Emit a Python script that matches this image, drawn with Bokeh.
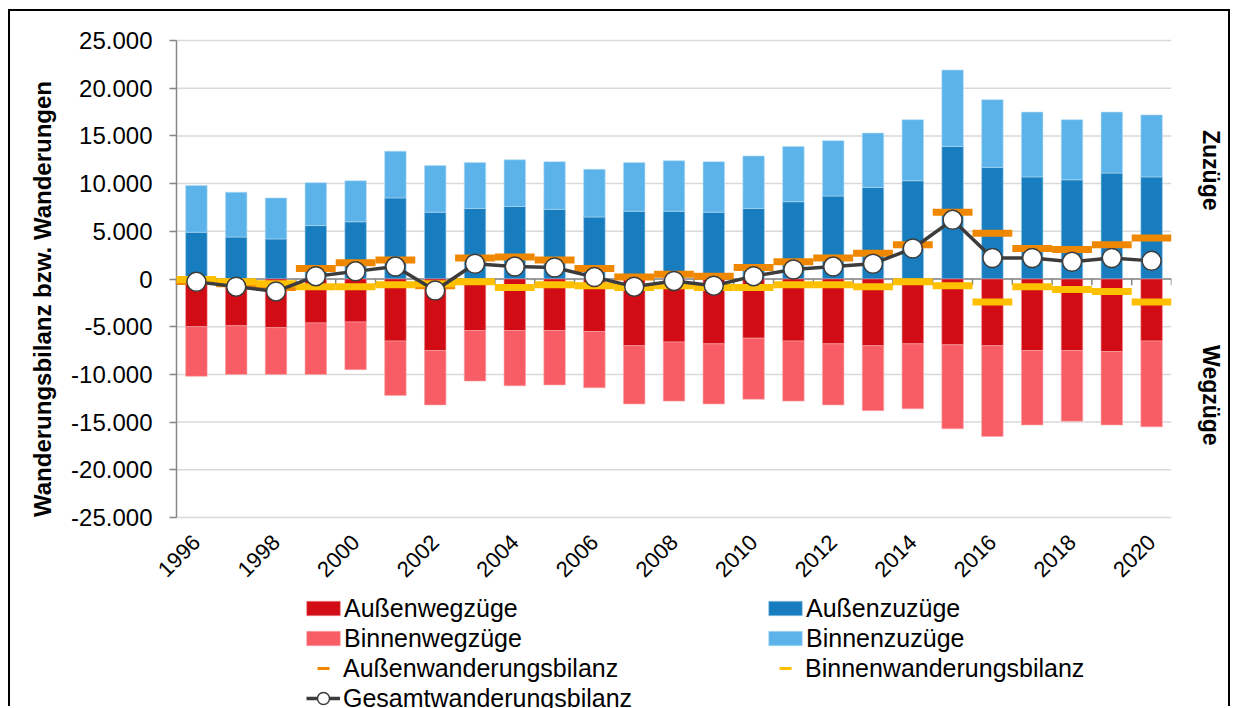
import math
from bokeh.plotting import figure
from bokeh.models import (Range1d, FixedTicker, LinearAxis, Legend, LegendItem)
from bokeh.embed import file_html
from bokeh.resources import INLINE

# ---------------- data ----------------
years = list(range(1996, 2021))
aussen_zuzuege = [4900, 4400, 4200, 5600, 6000, 8500, 7000, 7400, 7600, 7300, 6500, 7100, 7100,
                  7000, 7400, 8100, 8700, 9600, 10300, 13900, 11700, 10700, 10400, 11100, 10700]
binnen_zuzuege = [4900, 4700, 4300, 4500, 4300, 4900, 4900, 4800, 4900, 5000, 5000, 5100, 5300,
                  5300, 5500, 5800, 5800, 5700, 6400, 8000, 7100, 6800, 6300, 6400, 6500]
aussen_wegzuege = [-5000, -4900, -5100, -4600, -4500, -6500, -7500, -5400, -5400, -5400, -5500, -7000, -6600,
                   -6800, -6200, -6500, -6800, -7000, -6800, -6900, -7000, -7500, -7500, -7600, -6500]
binnen_wegzuege = [-5200, -5100, -4900, -5400, -5000, -5700, -5700, -5300, -5800, -5700, -5900, -6100, -6200,
                   -6300, -6400, -6300, -6400, -6800, -6800, -8800, -9500, -7800, -7400, -7700, -9000]
aussen_bilanz = [-250, -500, -900, 1100, 1700, 2000, -700, 2200, 2300, 2000, 1100, 200, 500,
                 300, 1200, 1800, 2200, 2700, 3600, 7000, 4800, 3200, 3100, 3600, 4300]
binnen_bilanz = [-50, -300, -500, -800, -800, -600, -500, -300, -900, -600, -700, -900, -700,
                 -900, -900, -600, -600, -800, -300, -700, -2400, -800, -1100, -1300, -2400]
gesamt_bilanz = [-300, -800, -1300, 300, 800, 1300, -1200, 1600, 1300, 1200, 200, -800, -200,
                 -700, 300, 1000, 1300, 1600, 3200, 6200, 2200, 2200, 1800, 2200, 1900]

y_ticks = [-25000, -20000, -15000, -10000, -5000, 0, 5000, 10000, 15000, 20000, 25000]
y_tick_labels = ["-25.000", "-20.000", "-15.000", "-10.000", "-5.000", "0",
                 "5.000", "10.000", "15.000", "20.000", "25.000"]
x_tick_years = [1996, 1998, 2000, 2002, 2004, 2006, 2008, 2010, 2012, 2014, 2016, 2018, 2020]
x_tick_labels = [str(y) for y in x_tick_years]
side_label_pos = [11400, -12200]
side_labels = ["Zuzüge", "Wegzüge"]
y_title = "Wanderungsbilanz bzw. Wanderungen"

# ---------------- layout / style ----------------
FONT = "Liberation Sans"
C_AZ = "#177DBE"
C_BZ = "#5BB3EA"
C_AW = "#D20C14"
C_BW = "#F85C64"
C_AB = "#EF8700"
C_BB = "#FFC000"
C_LN = "#3C3C3C"
AXIS_GRAY = "#868686"
GRID_GRAY = "#D9D9D9"

W, H = 1222, 697
AXIS_X = 166               # where the value axis sits (canvas px)
AXIS_TOP = 29              # canvas px of the 25.000 line
FRAME_RIGHT = 1161
AXIS_PX = 477              # pixel height of the -25.000 .. 25.000 axis
TITLE_SHIFT_PX = 20        # title centre lies this far below the axis centre
units_per_px = (y_ticks[-1] - y_ticks[0]) / AXIS_PX
y_top = y_ticks[-1] + AXIS_TOP * units_per_px
y_bottom = y_top - H * units_per_px
x_lo, x_hi = years[0] - 0.5, years[-1] + 0.5
px_per_year = (FRAME_RIGHT - AXIS_X) / (x_hi - x_lo)
x_start = x_lo - AXIS_X / px_per_year

p = figure(width=W, height=H,
           x_range=Range1d(x_start, x_hi),
           y_range=Range1d(y_bottom, y_top),
           x_axis_location=None,
           output_backend="svg", toolbar_location=None,
           min_border_left=0, min_border_right=W - FRAME_RIGHT,
           min_border_top=0, min_border_bottom=0,
           background_fill_color="white", border_fill_color="white",
           styles={"margin-left": "8px", "margin-top": "9px",
                   "border-top": "2px solid black", "border-left": "2px solid black",
                   "border-right": "2px solid black"})
p.outline_line_color = None
p.xgrid.visible = False
p.ygrid.visible = False

# horizontal gridlines (limited to the category area)
p.segment(x0=[x_lo] * len(y_ticks), x1=[x_hi] * len(y_ticks), y0=y_ticks, y1=y_ticks,
          line_color=GRID_GRAY, line_width=1.5, level="underlay")

# value axis line
p.segment(x0=[x_lo], x1=[x_lo], y0=[y_ticks[0]], y1=[y_ticks[-1]],
          line_color=AXIS_GRAY, line_width=1.5)

# value axis, fixed at the left edge of the category area
ya = p.yaxis[0]
ya.fixed_location = x_lo
ya.ticker = FixedTicker(ticks=y_ticks)
centre = (y_ticks[0] + y_ticks[-1]) / 2 - TITLE_SHIFT_PX * units_per_px
ya.bounds = (2 * centre - y_ticks[-1], y_ticks[-1])
ya.major_label_overrides = {t: l for t, l in zip(y_ticks, y_tick_labels)}
ya.major_label_text_font = FONT
ya.major_label_text_font_size = "24px"
ya.major_label_text_color = "black"
ya.axis_line_color = None
ya.major_tick_line_color = AXIS_GRAY
ya.major_tick_line_width = 1.5
ya.major_tick_out = 7
ya.major_tick_in = 0
ya.minor_tick_line_color = None
ya.major_label_standoff = 17
ya.axis_label = y_title
ya.axis_label_text_font = FONT
ya.axis_label_text_font_size = "24px"
ya.axis_label_text_font_style = "bold"
ya.axis_label_text_color = "black"
ya.axis_label_standoff = 12

# right side labels
ra = LinearAxis(ticker=FixedTicker(ticks=side_label_pos),
                major_label_overrides={t: l for t, l in zip(side_label_pos, side_labels)},
                major_label_orientation="vertical",
                axis_line_color=None, major_tick_line_color=None, minor_tick_line_color=None,
                major_label_text_font=FONT, major_label_text_font_size="23px",
                major_label_text_font_style="bold", major_label_text_color="black",
                major_label_standoff=20)
p.add_layout(ra, "right")

# year axis, drawn at the bottom of the value axis
xa = LinearAxis(ticker=FixedTicker(ticks=x_tick_years), fixed_location=y_ticks[0],
                major_label_overrides={t: l for t, l in zip(x_tick_years, x_tick_labels)},
                major_label_orientation=math.pi / 4,
                axis_line_color=None, major_tick_line_color=None, minor_tick_line_color=None,
                major_tick_out=0, major_tick_in=0,
                major_label_text_font=FONT, major_label_text_font_size="22px",
                major_label_text_color="black", major_label_standoff=21)
p.add_layout(xa, "below")

# category axis line at zero with ticks between categories
p.segment(x0=[x_lo], x1=[x_hi], y0=[0], y1=[0], line_color=AXIS_GRAY, line_width=1.5,
          level="underlay")
bounds = [y - 0.5 for y in years] + [years[-1] + 0.5]
p.segment(x0=bounds, y0=[0] * len(bounds), x1=bounds, y1=[-650] * len(bounds),
          line_color=AXIS_GRAY, line_width=1.5)

# bars
BW = 0.54
az_top = aussen_zuzuege
bz_top = [a + b for a, b in zip(aussen_zuzuege, binnen_zuzuege)]
aw_bot = aussen_wegzuege
bw_bot = [a + b for a, b in zip(aussen_wegzuege, binnen_wegzuege)]
r_az = p.vbar(x=years, bottom=0, top=az_top, width=BW, fill_color=C_AZ,
              line_color="#9CCBEA", line_width=0.6)
r_bz = p.vbar(x=years, bottom=az_top, top=bz_top, width=BW, fill_color=C_BZ,
              line_color="#B5DCF5", line_width=0.6)
r_aw = p.vbar(x=years, bottom=0, top=aw_bot, width=BW, fill_color=C_AW,
              line_color="#F08A8E", line_width=0.6)
r_bw = p.vbar(x=years, bottom=aw_bot, top=bw_bot, width=BW, fill_color=C_BW,
              line_color="#FBA6AA", line_width=0.6)

# balance dashes
p.rect(x=years, y=aussen_bilanz, width=1.0, height=7, height_units="screen",
       fill_color=C_AB, line_color=None)
p.rect(x=years, y=binnen_bilanz, width=1.0, height=7, height_units="screen",
       fill_color=C_BB, line_color=None)

# total balance
r_gl = p.line(x=years, y=gesamt_bilanz, line_color=C_LN, line_width=3.5)
r_gc = p.scatter(x=years, y=gesamt_bilanz, marker="circle", size=19, fill_color="white",
                 line_color=C_LN, line_width=1.5)

# legend symbols for the balance dashes (hidden renderers, shown only in the legend)
r_ab_leg = p.scatter(x=years, y=aussen_bilanz, marker="dash", size=12, line_color=C_AB,
                     line_width=3, visible=False)
r_bb_leg = p.scatter(x=years, y=binnen_bilanz, marker="dash", size=12, line_color=C_BB,
                     line_width=3, visible=False)


def make_legend(items, loc, gw, gh, standoff):
    lg = Legend(items=items, location=loc, orientation="vertical",
                glyph_width=gw, glyph_height=gh, label_height=30, spacing=0,
                padding=0, margin=0, label_standoff=standoff,
                label_text_font=FONT, label_text_font_size="25px",
                label_text_color="black", inactive_fill_alpha=0,
                click_policy="none",
                border_line_color=None, background_fill_alpha=0)
    p.add_layout(lg)
    return lg


# legend positions (x from frame left, y of legend bottom above frame bottom)
make_legend([LegendItem(label="Außenwegzüge", renderers=[r_aw]),
             LegendItem(label="Binnenwegzüge", renderers=[r_bw])], (292, 55), 42, 18, 0)
make_legend([LegendItem(label="Außenwanderungsbilanz", renderers=[r_ab_leg]),
             LegendItem(label="Gesamtwanderungsbilanz", renderers=[r_gl, r_gc])], (296, -5), 34, 30, 3)
make_legend([LegendItem(label="Außenzuzüge", renderers=[r_az]),
             LegendItem(label="Binnenzuzüge", renderers=[r_bz])], (754, 55), 42, 18, 0)
make_legend([LegendItem(label="Binnenwanderungsbilanz", renderers=[r_bb_leg])], (758, 25), 34, 30, 3)

open("out.html", "w").write(file_html(p, INLINE))
